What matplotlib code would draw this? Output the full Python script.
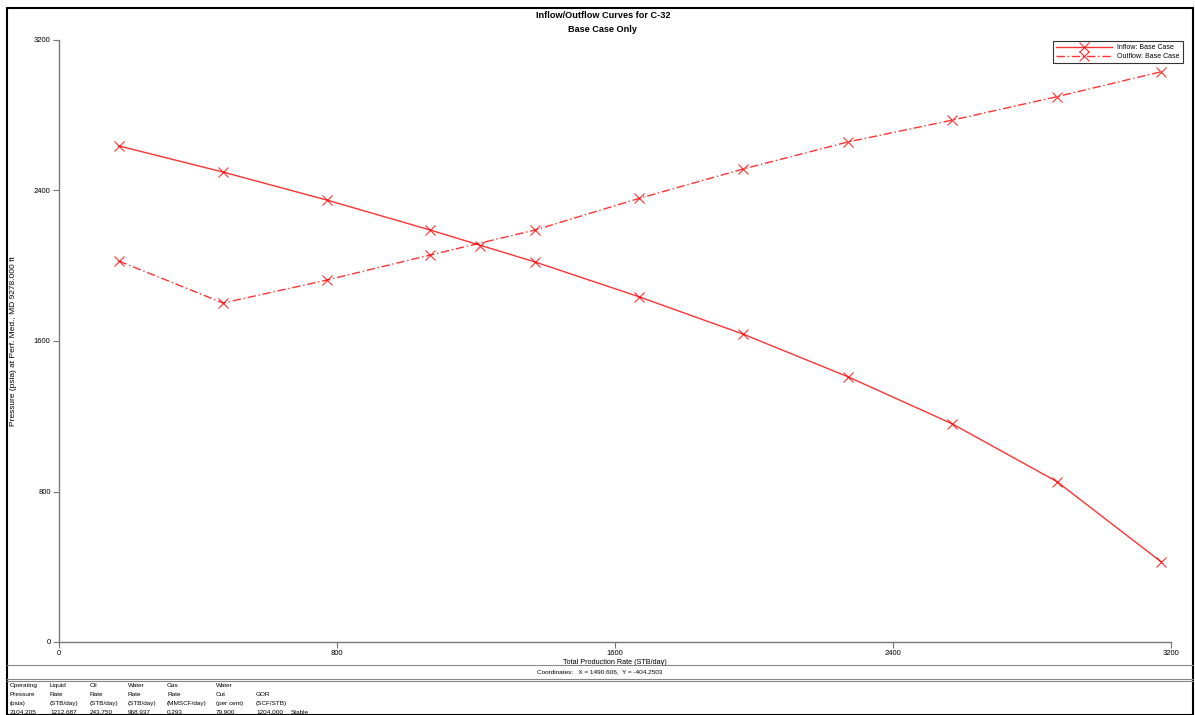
import matplotlib.pyplot as plt
from matplotlib.lines import Line2D
from matplotlib.patches import Rectangle

rate = [172, 472, 771, 1068, 1370, 1669, 1968, 2270, 2570, 2872, 3171]
inflow = [2637, 2498, 2349, 2190, 2020, 1835, 1637, 1410, 1160, 852, 427]
outflow = [2025, 1802, 1924, 2057, 2190, 2358, 2514, 2658, 2774, 2899, 3031]
op_rate = 1212.687
op_pressure = 2104.205

xticks = [0, 800, 1600, 2400, 3200]
yticks = [0, 800, 1600, 2400, 3200]

table_rows = [
    ['Operating', 'Liquid', 'Oil', 'Water', 'Gas', 'Water', '', ''],
    ['Pressure', 'Rate', 'Rate', 'Rate', 'Rate', 'Cut', 'GOR', ''],
    ['(psia)', '(STB/day)', '(STB/day)', '(STB/day)', '(MMSCF/day)', '(per cent)', '(SCF/STB)', ''],
    ['2104.205', '1212.687', '243.750', '968.937', '0.293', '79.900', '1204.000', 'Stable'],
]
col_x = [10, 50, 90, 128, 167, 216, 256, 291]

W, H = 1195, 715
fig = plt.figure(figsize=(W / 100, H / 100), dpi=100)
plt.rcParams['font.family'] = 'Liberation Sans'

# outer frame
fig.patches.append(Rectangle((7 / W, 0), (1193 - 7) / W, (H - 8) / H, transform=fig.transFigure,
                             fill=False, edgecolor='black', lw=1.5))

ax = fig.add_axes([59 / W, 1 - 642 / H, (1171 - 59) / W, (642 - 40) / H])
ax.plot(rate, inflow, color='red', lw=1, alpha=0.8, marker='x', ms=7, mew=0.8,
        label='Inflow: Base Case')
ax.plot(rate, outflow, color='red', lw=1, alpha=0.8, ls=(0, (6, 2, 1, 2)), marker='x', ms=7, mew=0.8,
        label='Outflow: Base Case')
ax.plot([op_rate], [op_pressure], color='red', alpha=0.8, marker='x', ms=7, mew=0.8, ls='none')

ax.set_xlim(0, 3200)
ax.set_ylim(0, 3200)
ax.set_xticks(xticks)
ax.set_yticks(yticks)
ax.tick_params(labelsize=5.5, length=4, width=0.8, color='#777777', direction='out', pad=2)
for s in ['top', 'right']:
    ax.spines[s].set_visible(False)
for s in ['left', 'bottom']:
    ax.spines[s].set_color('#777777')
    ax.spines[s].set_linewidth(1)

ax.set_xlabel('Total Production Rate (STB/day)', fontsize=5.2, labelpad=1)
fig.text(14 / W, 1 - 341 / H, 'Pressure (psia) at Perf. Med., MD 9278.000 ft', rotation=90,
         fontsize=6, ha='center', va='center')

fig.text(603 / W, 1 - 16 / H, 'Inflow/Outflow Curves for C-32', fontsize=6.6, fontweight='bold',
         ha='center', va='center')
fig.text(603 / W, 1 - 29 / H, 'Base Case Only', fontsize=6.6, fontweight='bold',
         ha='center', va='center')

leg = ax.legend(loc='upper right', bbox_to_anchor=(1186 / W, 1 - 38 / H), bbox_transform=fig.transFigure,
                fontsize=5, frameon=True, fancybox=False, edgecolor='black', handlelength=8,
                borderpad=0.4, labelspacing=0.25, handletextpad=0.8)
leg.get_frame().set_linewidth(0.8)

# coordinates bar
for y in [665, 679, 681]:
    fig.add_artist(Line2D([7 / W, 1193 / W], [1 - y / H, 1 - y / H], color='#888888', lw=0.8))
fig.text(537 / W, 1 - 672 / H, 'Coordinates:   X = 1490.606,  Y = -404.2503', fontsize=4.6,
         ha='left', va='center')

# bottom table
row_y = [687, 696, 705, 714]
for r, row in enumerate(table_rows):
    for c, txt in enumerate(row):
        if txt:
            fig.text(col_x[c] / W, 1 - row_y[r] / H, txt, fontsize=4.6, ha='left', va='baseline')

fig.savefig('out.png', dpi=100)
